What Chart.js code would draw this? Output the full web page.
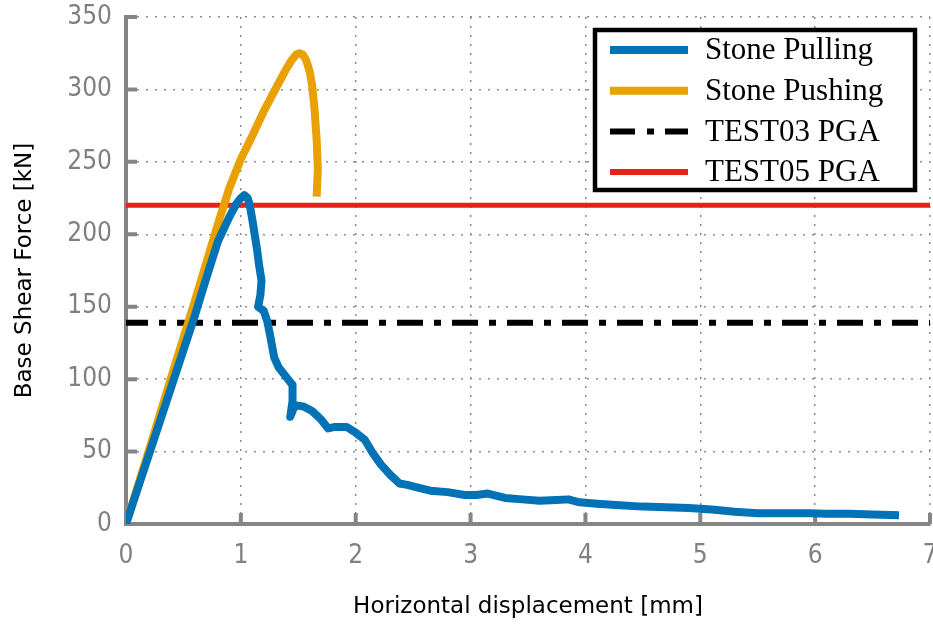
<!DOCTYPE html>
<html>
<head>
<meta charset="utf-8">
<script src="https://cdn.jsdelivr.net/npm/chart.js@4.4.0/dist/chart.umd.min.js"></script>
<style>
  html, body { margin: 0; padding: 0; background: #fff; }
  #wrap { width: 933px; height: 624px; }
</style>
</head>
<body>
<div id="wrap"><canvas id="chart"></canvas></div>
<script>
// Stone Pulling (blue)
const pullingX = [0, 0.1, 0.2, 0.3, 0.4, 0.5, 0.6, 0.7, 0.8, 0.9, 0.96, 1.0, 1.03, 1.06, 1.08, 1.10, 1.12, 1.14, 1.16, 1.18, 1.17, 1.15, 1.20, 1.23, 1.26, 1.29, 1.33, 1.40, 1.45, 1.45, 1.43, 1.47, 1.55, 1.62, 1.70, 1.76, 1.82, 1.92, 2.0, 2.08, 2.14, 2.22, 2.30, 2.38, 2.45, 2.55, 2.65, 2.80, 2.95, 3.05, 3.15, 3.30, 3.45, 3.60, 3.75, 3.85, 3.95, 4.10, 4.30, 4.50, 4.70, 4.90, 5.10, 5.30, 5.50, 5.70, 5.95, 6.10, 6.30, 6.50, 6.73];
const pullingY = [0, 24, 48, 72, 96, 120, 144, 170, 195, 212, 221, 225, 227, 225, 219, 210, 200, 190, 178, 168, 158, 150, 147, 140, 128, 115, 108, 101, 96, 85, 74, 82, 81, 78, 72, 66, 67, 67, 63, 58, 50, 41, 34, 28, 27, 25, 23, 22, 20, 20, 21, 18, 17, 16, 16.5, 17, 15, 14, 13, 12, 11.5, 11, 10, 8.5, 7.5, 7.5, 7.5, 7, 7, 6.5, 6];

// Stone Pushing (orange)
const pushingX = [0, 0.2, 0.4, 0.6, 0.8, 0.9, 1.0, 1.1, 1.2, 1.3, 1.38, 1.44, 1.48, 1.51, 1.54, 1.57, 1.60, 1.62, 1.64, 1.66, 1.67, 1.66];
const pushingY = [0, 51, 103, 154, 207, 232, 252, 268, 285, 300, 312, 320, 324, 325, 324, 320, 312, 303, 288, 265, 245, 226];

// PGA reference levels
const pgaX = [0, 7];
const test03Y = [139, 139];
const test05Y = [220, 220];

const xTicks = [0, 1, 2, 3, 4, 5, 6, 7];
const yTicks = [0, 50, 100, 150, 200, 250, 300, 350];
const seriesLabels = ['Stone Pulling', 'Stone Pushing', 'TEST03 PGA', 'TEST05 PGA'];

const axisGrey = '#858585';
const toPoints = (xs, ys) => xs.map((x, i) => ({ x: x, y: ys[i] }));

// legend with a heavy black frame, drawn inside the plot
const boxLegend = {
  id: 'boxLegend',
  afterDraw(chart) {
    const { ctx, chartArea } = chart;
    const w = 320, h = 160;
    const left = chartArea.right - 15 - w;
    const top = chartArea.top + 13;
    ctx.save();
    ctx.fillStyle = '#fff';
    ctx.fillRect(left, top, w, h);
    ctx.lineWidth = 4.5;
    ctx.strokeStyle = '#000';
    ctx.strokeRect(left, top, w, h);
    chart.data.datasets.forEach((ds, i) => {
      const y = top + 20 + i * 40.7;
      ctx.beginPath();
      ctx.setLineDash(ds.legendDash || []);
      ctx.lineWidth = ds.legendWidth;
      ctx.strokeStyle = ds.borderColor;
      ctx.moveTo(left + 15, y);
      ctx.lineTo(left + 93, y);
      ctx.stroke();
      ctx.setLineDash([]);
      ctx.fillStyle = '#000';
      ctx.font = '31px "Liberation Serif", "Times New Roman", serif';
      ctx.textBaseline = 'middle';
      ctx.fillText(ds.label, left + 110, y + 1);
    });
    ctx.restore();
  }
};

// ticks pointing into the plot
const inwardTicks = {
  id: 'inwardTicks',
  beforeDatasetsDraw(chart) {
    const { ctx, chartArea, scales } = chart;
    ctx.save();
    ctx.strokeStyle = axisGrey;
    ctx.lineWidth = 4;
    ctx.beginPath();
    scales.y.ticks.forEach(t => {
      const py = scales.y.getPixelForValue(t.value);
      ctx.moveTo(chartArea.left, py);
      ctx.lineTo(chartArea.left + 11, py);
    });
    scales.x.ticks.forEach(t => {
      const px = scales.x.getPixelForValue(t.value);
      ctx.moveTo(px, chartArea.bottom);
      ctx.lineTo(px, chartArea.bottom - 11);
    });
    ctx.stroke();
    ctx.restore();
  }
};

const tickFont = { family: "'DejaVu Sans Condensed', 'DejaVu Sans', sans-serif", size: 26 };
const titleFont = { family: "'DejaVu Sans', sans-serif", size: 23 };

new Chart(document.getElementById('chart'), {
  type: 'scatter',
  data: {
    datasets: [
      {
        label: seriesLabels[0],
        data: toPoints(pullingX, pullingY),
        borderColor: '#0072B5',
        borderWidth: 8,
        legendWidth: 8,
        order: 0
      },
      {
        label: seriesLabels[1],
        data: toPoints(pushingX, pushingY),
        borderColor: '#E8A100',
        borderWidth: 8,
        legendWidth: 8,
        order: 1
      },
      {
        label: seriesLabels[2],
        data: toPoints(pgaX, test03Y),
        borderColor: '#000000',
        borderWidth: 6,
        borderDash: [26, 11, 7, 11],
        borderDashOffset: 4,
        legendWidth: 6,
        legendDash: [25, 12, 7, 11],
        order: 3
      },
      {
        label: seriesLabels[3],
        data: toPoints(pgaX, test05Y),
        borderColor: '#E8201A',
        borderWidth: 5,
        legendWidth: 6,
        order: 2
      }
    ]
  },
  options: {
    responsive: true,
    maintainAspectRatio: false,
    animation: false,
    layout: { padding: { left: 0, right: 3, top: 17, bottom: 0 }, autoPadding: false },
    elements: {
      point: { radius: 0, hoverRadius: 0 },
      line: { tension: 0, borderJoinStyle: 'round', fill: false }
    },
    showLine: true,
    plugins: {
      legend: { display: false },
      tooltip: { enabled: false }
    },
    scales: {
      x: {
        type: 'linear',
        min: 0,
        max: 7,
        afterBuildTicks: s => { s.ticks = xTicks.map(v => ({ value: v })); },
        afterFit: s => { s.height = 100; s.paddingLeft = 0; s.paddingRight = 0; },
        grid: { color: '#8c8c8c', lineWidth: 1.5, drawTicks: false },
        border: { display: true, color: axisGrey, width: 4, dash: [2, 7] },
        ticks: { color: '#808080', font: tickFont, padding: 17 },
        title: {
          display: true,
          text: 'Horizontal displacement [mm]',
          color: '#000',
          font: titleFont,
          padding: { top: 0, bottom: 3 }
        }
      },
      y: {
        type: 'linear',
        min: 0,
        max: 350,
        afterBuildTicks: s => { s.ticks = yTicks.map(v => ({ value: v })); },
        afterFit: s => { s.width = 126; s.paddingTop = 0; s.paddingBottom = 0; },
        grid: { color: '#8c8c8c', lineWidth: 1.5, drawTicks: false },
        border: { display: true, color: axisGrey, width: 4, dash: [2, 7] },
        ticks: { color: '#808080', font: tickFont, padding: 14 },
        title: {
          display: true,
          text: 'Base Shear Force [kN]',
          color: '#000',
          font: titleFont,
          padding: { top: 11, bottom: 0 }
        }
      }
    }
  },
  plugins: [inwardTicks, boxLegend]
});
</script>
</body>
</html>
